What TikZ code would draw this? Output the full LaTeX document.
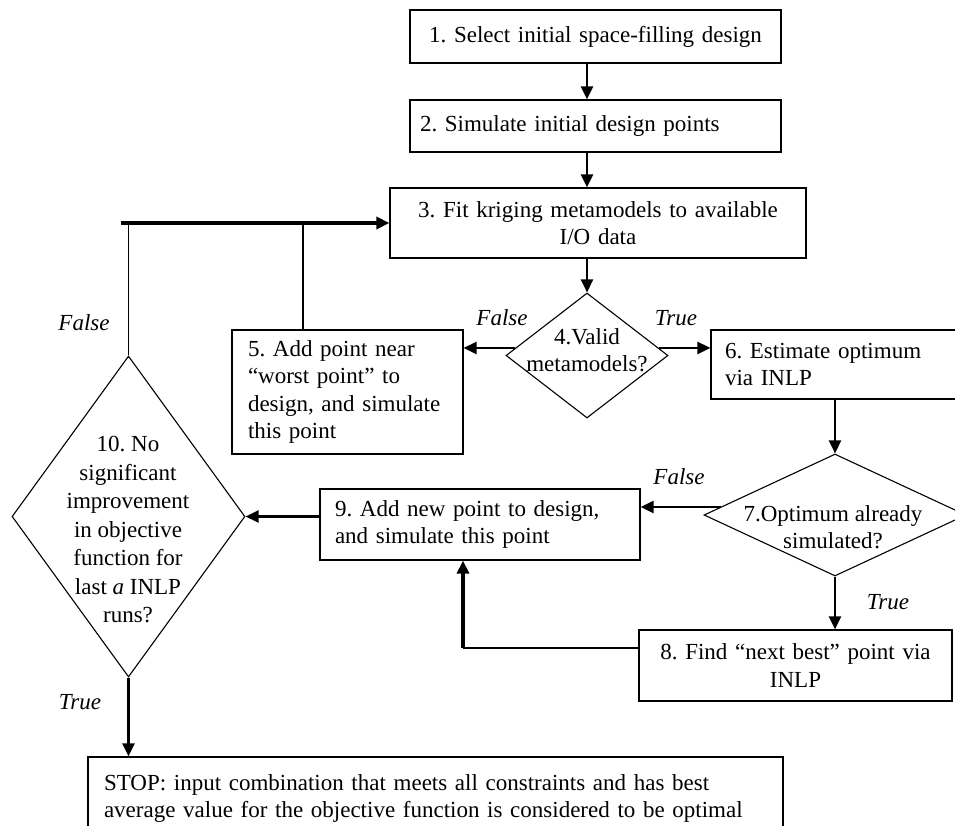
\documentclass[tikz,border=0pt]{standalone}
\usepackage{fontspec}
\setmainfont{Liberation Serif}
\usetikzlibrary{shapes.geometric,arrows.meta}
\newcommand{\oneline}[1]{\mbox{#1}}
\begin{document}
\frenchspacing
\begin{tikzpicture}[x=1pt,y=-1pt,
  box/.style={draw,line width=1.2pt,inner ysep=0pt,font=\fontsize{23}{27.6}\selectfont},
  dia/.style={draw,diamond,line width=1.1pt,inner sep=0pt},
  txt/.style={inner sep=0pt,font=\fontsize{23}{27.6}\selectfont,align=center},
  lab/.style={inner sep=0pt,font=\fontsize{23}{26}\selectfont\itshape},
  arr/.style={line width=2.4pt,-{Triangle[length=13pt,width=12pt]}},
  thk/.style={line width=3.4pt,-{Triangle[length=13pt,width=12pt]}},
  thin/.style={line width=1.2pt}]
\useasboundingbox (0,0) rectangle (955,825);
\fill[white] (0,0) rectangle (955,825);
\clip (0,0) rectangle (955,825);

% boxes
\node[box,minimum width=371pt,minimum height=53pt,inner xsep=10pt,text width=351pt,align=center] (b1) at (595.5,36.5) {\oneline{1. Select initial space-filling design}};
\node[box,minimum width=371pt,minimum height=52pt,inner xsep=10pt,text width=351pt,align=left] (b2) at (595.5,126) {\oneline{2. Simulate initial design points}};
\node[box,minimum width=416pt,minimum height=70pt,inner xsep=10pt,text width=396pt,align=center] (b3) at (598,223) {\oneline{3. Fit kriging metamodels to available}\\\oneline{I/O data}};
\node[box,minimum width=231pt,minimum height=124pt,inner xsep=16pt,text width=199pt,align=left] (b5) at (347.5,392) {\oneline{5. Add point near}\\\oneline{“worst point” to}\\\oneline{design, and simulate}\\\oneline{this point}};
\node[box,minimum width=254pt,minimum height=69pt,inner xsep=14pt,text width=226pt,align=left] (b6) at (838,364.5) {\oneline{6. Estimate optimum}\\\oneline{via INLP}};
\node[box,minimum width=320pt,minimum height=71pt,inner xsep=15pt,text width=290pt,align=left] (b9) at (480,524.5) {\oneline{9. Add new point to design,}\\\oneline{and simulate this point}};
\node[box,minimum width=313pt,minimum height=71pt,inner xsep=10pt,text width=293pt,align=center] (b8) at (795.5,665.5) {\oneline{8. Find “next best” point via}\\\oneline{INLP}};
\node[box,minimum width=695pt,minimum height=83pt,inner xsep=16pt,text width=663pt,align=left] (stop) at (435.5,798.5) {\oneline{STOP: input combination that meets all constraints and has best}\\\oneline{average value for the objective function is considered to be optimal}};

% diamonds
\node[dia,minimum width=162pt,minimum height=125pt] (d4) at (587,355.5) {};
\node[txt] (t4) at (587,350) {4.Valid\\metamodels?};
\node[dia,minimum width=262pt,minimum height=122pt] (d7) at (835,515) {};
\node[txt] (t7) at (833,527) {7.Optimum already\\simulated?};
\node[dia,minimum width=233pt,minimum height=321pt] (d10) at (128.5,516.5) {};
\node[txt,font=\fontsize{23}{28.5}\selectfont] (t10) at (128,530) {10. No\\significant\\improvement\\in objective\\function for\\last \textit{a} INLP\\runs?};

% labels
\node[lab] (lf4) at (502,318) {False};
\node[lab] (lt4) at (676,318) {True};
\node[lab] (lf10) at (84,323) {False};
\node[lab] (lf7) at (679,477) {False};
\node[lab] (lt7) at (888,602) {True};
\node[lab] (lt10) at (80,702) {True};

% junctions
\coordinate (j1) at (121,223);
\coordinate (j2) at (303,223);
\coordinate (k) at (463,648);

% connectors
\draw[arr] (b1.south -| d4) -- (b2.north -| d4);
\draw[arr] (b2.south -| d4) -- (b3.north -| d4);
\draw[arr] (b3.south -| d4) -- (d4.north);
\draw[arr] (d4.174) -- (d4.174 -| b5.east);
\draw[arr] (d4.6) -- (d4.6 -| b6.west);
\draw[thin] (j2) -- (j2 |- b5.north);
\draw[thin] (d10.north) -- (d10.north |- j1);
\draw[thk] (j1) -- (b3.west);
\draw[arr] (b6.south -| d7) -- (d7.north);
\draw[arr] (d7.176) -- (d7.176 -| b9.east);
\draw[arr] (d7.south) -- (d7.south |- b8.north);
\draw[thin] (b8.west |- k) -- (k);
\draw[thk] (k) -- (k |- b9.south);
\draw[arr] (b9.west |- d10.east) -- (d10.east);
\draw[arr] (d10.south) -- (d10.south |- stop.north);
\end{tikzpicture}
\end{document}
